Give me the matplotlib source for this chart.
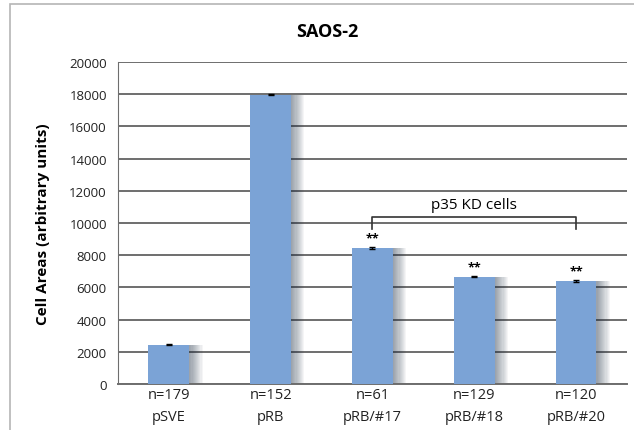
import matplotlib.pyplot as plt
from matplotlib.patches import Rectangle

groups = ["pSVE", "pRB", "pRB/#17", "pRB/#18", "pRB/#20"]
counts = ["n=179", "n=152", "n=61", "n=129", "n=120"]
areas = [2450, 17950, 8450, 6650, 6400]
errors = [30, 30, 40, 35, 35]
stars = ["", "", "**", "**", "**"]
yticks = list(range(0, 20001, 2000))

plt.rcParams["font.family"] = ["Open Sans", "DejaVu Sans"]

fig = plt.figure(figsize=(6.34, 4.31), dpi=100)
fig.patches.append(Rectangle((10 / 634, -0.1), 1.1, 1.1 - 5 / 431,
                             transform=fig.transFigure, fill=False,
                             edgecolor="#b5b5b5", linewidth=1.2))
ax = fig.add_axes([0.186, 0.1067, 0.803, 0.7473])

x = list(range(len(groups)))
# soft shadow on the right of each bar
for k in range(1, 13):
    ax.bar([i + 0.011 * k for i in x], areas, width=0.4,
           color="#1a2a40", alpha=0.045, zorder=2, linewidth=0)
ax.bar(x, areas, width=0.4, color="#7ba3d6", zorder=3, linewidth=0)
ax.errorbar(x, areas, yerr=errors, fmt="none", ecolor="black",
            elinewidth=1, capsize=2.5, zorder=4)

for i, s in enumerate(stars):
    if s:
        ax.text(i, areas[i] + 250, s, ha="center", va="bottom",
                fontsize=9, fontweight="bold", zorder=5)

# bracket over the p35 knockdown groups
ax.plot([2, 2, 4, 4], [9630, 10370, 10370, 9630], color="#333333",
        linewidth=1.2, zorder=5)
ax.text(3, 10700, "p35 KD cells", ha="center", va="bottom", fontsize=11)

ax.set_xlim(-0.5, 4.5)
ax.set_ylim(0, 20000)
ax.set_yticks(yticks)
ax.set_yticklabels([str(t) for t in yticks], fontsize=9.5, color="#222222")
ax.set_xticks(x)
ax.set_xticklabels([f"{c}\n{g}" for c, g in zip(counts, groups)],
                   fontsize=10.5, linespacing=1.7, color="#222222")
ax.tick_params(axis="x", length=0, pad=2)
ax.tick_params(axis="y", length=0, pad=8)
ax.grid(axis="y", color="#6e6e6e", linewidth=1.4, zorder=1)
ax.set_axisbelow(True)
for side in ["top", "right"]:
    ax.spines[side].set_visible(False)
ax.spines["left"].set_color("#6e6e6e")
ax.spines["bottom"].set_color("#6e6e6e")
ax.spines["bottom"].set_linewidth(1.4)

ax.set_ylabel("Cell Areas (arbitrary units)", fontsize=11,
              fontweight="bold", labelpad=14)
fig.text(327 / 634, 1 - 32 / 431, "SAOS-2", ha="center", va="center",
         fontsize=13, fontweight="bold")

fig.savefig("out.png", dpi=100)
